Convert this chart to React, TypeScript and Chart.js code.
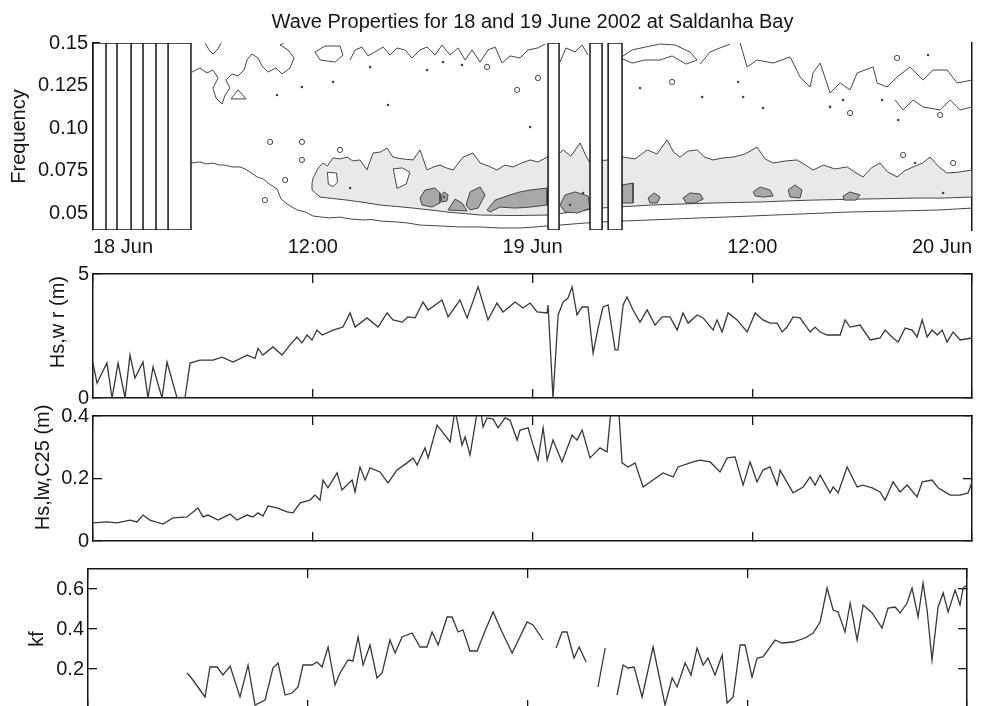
import { useEffect, useRef } from "react";
import { Chart, registerables } from "chart.js";

Chart.register(...registerables);

type Pt = [number, number | null];

const TITLE = "Wave Properties for 18 and 19 June 2002 at Saldanha Bay";

// time axis in hours after 18 Jun 2002 00:00
const TIME_RANGE = [0, 48];
const TIME_TICKS = [0, 12, 24, 36, 48];
const TIME_LABELS = ["18 Jun", "12:00", "19 Jun", "12:00", "20 Jun"];

// spectrum panel
const FREQ_RANGE = [0.04, 0.15];
const FREQ_TICKS = [0.05, 0.075, 0.1, 0.125, 0.15];
const FREQ_LABELS = ["0.05", "0.075", "0.10", "0.125", "0.15"];

// periods without spectra (start, end hours)
const GAPS: [number, number][] = [
  [0, 0.71], [0.71, 1.31], [1.31, 2.08], [2.08, 2.73], [2.73, 3.44], [3.44, 4.1], [4.1, 5.35],
  [24.85, 25.45], [27.14, 27.8], [28.13, 28.89],
];

// light-grey energy band: upper edge then lower edge
const BAND_UPPER: Pt[] = [
  [11.96, 0.0676], [12.02, 0.0706], [12.3, 0.0765], [12.56, 0.0794], [12.8, 0.0776], [13.11, 0.0824], [13.5, 0.0818], [13.87, 0.0829],
  [14.2, 0.0806], [14.58, 0.0812], [14.96, 0.0753], [15.29, 0.0853], [15.7, 0.0859], [16.06, 0.0882], [16.38, 0.0829],
  [16.9, 0.0818], [17.48, 0.0812], [17.86, 0.0871], [18.24, 0.0753], [18.6, 0.0771], [18.95, 0.0782], [19.3, 0.0765],
  [19.66, 0.0753], [20.21, 0.0829], [20.75, 0.0853], [21.14, 0.0794], [21.6, 0.0776], [22.06, 0.0753], [22.5, 0.0782],
  [22.94, 0.0771], [23.4, 0.0794], [23.87, 0.0812], [24.3, 0.08], [24.8, 0.0829], [25.2, 0.0824], [25.67, 0.0871],
  [26.1, 0.0835], [26.6, 0.0912], [26.9, 0.0841], [27.14, 0.0794], [27.6, 0.0806], [28.13, 0.0812], [28.5, 0.0794],
  [28.95, 0.0829], [29.6, 0.0818], [30.26, 0.0871], [30.8, 0.0847], [31.35, 0.0929], [31.7, 0.0859], [32.06, 0.0829],
  [32.5, 0.0865], [32.99, 0.0871], [33.4, 0.0829], [33.86, 0.0812], [34.4, 0.0824], [34.95, 0.0829], [35.6, 0.0847],
  [36.26, 0.0888], [36.7, 0.0818], [37.14, 0.0794], [37.8, 0.0806], [38.45, 0.0812], [38.9, 0.0782], [39.32, 0.0753],
  [39.9, 0.0782], [40.5, 0.0759], [41.18, 0.0771], [41.6, 0.0741], [42.05, 0.0712], [42.5, 0.0765], [42.98, 0.0794],
  [43.4, 0.0741], [43.91, 0.0712], [44.3, 0.0747], [44.78, 0.0771], [45.3, 0.0794], [45.71, 0.0829], [46.2, 0.0771],
  [46.64, 0.0735], [47.3, 0.0741], [48, 0.0753],
];
const BAND_LOWER: Pt[] = [
  [48, 0.0594], [46.5, 0.0588], [45, 0.0588], [43.5, 0.0585], [42, 0.0582], [40.6, 0.0579], [39.32, 0.0576],
  [37.9, 0.0571], [36.5, 0.0565], [35.2, 0.0562], [33.86, 0.0559], [32.2, 0.0553], [30.5, 0.0547], [29.1, 0.0538],
  [27.69, 0.0529], [26.2, 0.0506], [24.8, 0.0488], [23, 0.0485], [21.14, 0.0488], [19.33, 0.0506], [18.4, 0.0518],
  [17.48, 0.0529], [16.6, 0.0538], [15.67, 0.0547], [14.8, 0.0562], [13.87, 0.0576], [13.1, 0.0585], [12.4, 0.0594],
  [11.96, 0.0635],
];

// lower-level holes inside the band
const BAND_HOLES: Pt[][] = [
  [[12.8, 0.074], [13.3, 0.0735], [13.35, 0.068], [13.1, 0.0655], [12.85, 0.067]],
  [[16.4, 0.076], [16.9, 0.0765], [17.3, 0.074], [17.1, 0.067], [16.6, 0.0645]],
];

// dark-grey cores inside the band
const CORES: Pt[][] = [
  [[17.86, 0.0588], [18.13, 0.0635], [18.68, 0.0647], [18.95, 0.0618], [18.95, 0.0559], [18.51, 0.0535], [17.97, 0.0547]],
  [[19.0, 0.06], [19.17, 0.0624], [19.39, 0.0606], [19.33, 0.0571], [19.06, 0.0565]],
  [[19.39, 0.0518], [19.77, 0.0582], [20.15, 0.0559], [20.43, 0.0512]],
  [[20.37, 0.0547], [20.59, 0.0624], [21.14, 0.0653], [21.41, 0.0606], [21.03, 0.0529], [20.59, 0.0518]],
  [[21.52, 0.0518], [21.96, 0.0576], [22.77, 0.0606], [23.32, 0.0624], [23.87, 0.0635], [24.8, 0.0647], [24.8, 0.0547],
    [23.87, 0.0535], [23.05, 0.0529], [22.23, 0.0535], [21.68, 0.0506]],
  [[25.5, 0.0547], [25.78, 0.0606], [26.32, 0.0624], [27.03, 0.06], [27.14, 0.0529], [26.49, 0.05], [25.78, 0.0506]],
  [[28.89, 0.0665], [29.49, 0.0676], [29.49, 0.0559], [28.89, 0.0559]],
  [[30.31, 0.0588], [30.64, 0.0618], [30.97, 0.0594], [30.81, 0.0559], [30.42, 0.0559]],
  [[32.22, 0.0588], [32.6, 0.0618], [33.15, 0.0612], [33.32, 0.0582], [32.88, 0.0559], [32.39, 0.0559]],
  [[36.05, 0.0624], [36.43, 0.0653], [36.97, 0.0635], [37.14, 0.06], [36.59, 0.0594], [36.16, 0.06]],
  [[37.96, 0.0635], [38.34, 0.0665], [38.72, 0.0635], [38.61, 0.0588], [38.07, 0.0594]],
  [[40.96, 0.06], [41.34, 0.0624], [41.89, 0.0606], [41.67, 0.0576], [41.02, 0.0576]],
];

// lowest contour: swell front
const SWELL_EDGE: Pt[] = [
  [5.35, 0.0794], [5.84, 0.08], [6.2, 0.0788], [6.55, 0.0794], [6.9, 0.0782], [7.21, 0.0782], [7.6, 0.0771], [8.03, 0.0771],
  [8.3, 0.0759], [8.57, 0.0741], [8.96, 0.0712], [9.3, 0.07], [9.56, 0.0676], [10.05, 0.0641], [10.27, 0.0582],
  [10.6, 0.0553], [11.14, 0.0518], [11.6, 0.0506], [12.02, 0.0482], [12.5, 0.0476], [12.94, 0.0471], [13.5, 0.0476],
  [14.04, 0.0465], [14.75, 0.0459], [15.2, 0.0462], [15.67, 0.0453], [16.6, 0.0447], [17.2, 0.0441], [17.86, 0.0429],
  [18.95, 0.0424], [20, 0.0418], [21.14, 0.0418], [22.2, 0.0412], [23.32, 0.0412], [24.2, 0.0418], [24.8, 0.0424],
  [25.5, 0.0429], [26.5, 0.0438], [27.69, 0.0447], [29, 0.0453], [30.42, 0.0459], [31.8, 0.0465], [33.15, 0.0471],
  [34.5, 0.0476], [35.88, 0.0482], [37.2, 0.0488], [38.61, 0.0494], [40, 0.05], [41.34, 0.0506], [42.7, 0.0509],
  [44.07, 0.0512], [45.2, 0.0515], [46.26, 0.0518], [47.2, 0.0524], [48, 0.0529],
];

// high-frequency noise contours (open)
const NOISE_LINES: Pt[][] = [
  [[5.41, 0.1329], [5.84, 0.1353], [6.23, 0.1324], [6.55, 0.1341], [6.83, 0.1294], [6.55, 0.1235], [6.72, 0.1176],
    [7.05, 0.1141], [7.21, 0.1194], [7.48, 0.1235], [7.26, 0.1282], [7.59, 0.1318], [7.92, 0.1306], [8.25, 0.1341],
    [8.41, 0.14], [8.68, 0.1435], [9.01, 0.1412], [9.23, 0.1365], [9.56, 0.1329], [9.99, 0.1353], [10.32, 0.1318],
    [10.76, 0.1353], [10.98, 0.1412], [10.65, 0.1459], [10.21, 0.1488], [10.43, 0.15]],
  [[6.12, 0.15], [6.34, 0.1459], [6.55, 0.1435], [6.83, 0.1465], [6.99, 0.15]],
  [[14.04, 0.14], [14.31, 0.1459], [14.69, 0.1476], [15.02, 0.1424], [15.4, 0.1447], [15.84, 0.1476], [16.22, 0.1429],
    [16.6, 0.1471], [17.04, 0.1459], [17.42, 0.1412], [17.86, 0.1459], [18.24, 0.1476], [18.68, 0.1429], [19.06, 0.1488],
    [19.5, 0.1429], [19.93, 0.1471], [20.32, 0.14], [20.7, 0.1459], [21.14, 0.1388], [21.57, 0.1459], [21.96, 0.1476],
    [22.34, 0.1382], [22.77, 0.1424], [23.32, 0.1412], [23.76, 0.1459], [24.3, 0.1471], [24.69, 0.1494]],
  [[25.5, 0.1388], [25.83, 0.1471], [26.32, 0.1447], [26.71, 0.1488], [27.03, 0.1429]],
  [[33.15, 0.1376], [33.7, 0.1447], [34.24, 0.1471], [34.79, 0.1494]],
  [[35.34, 0.15], [35.72, 0.1359], [36.26, 0.14], [37.14, 0.1382], [38.07, 0.1418], [38.61, 0.13], [39.16, 0.1241],
    [39.32, 0.1324], [39.71, 0.1382], [40.25, 0.1206], [40.8, 0.1265], [41.34, 0.1224], [41.73, 0.1324], [42.6, 0.1359],
    [42.82, 0.1265], [43.36, 0.1241], [43.91, 0.13], [44.62, 0.1359], [45.33, 0.1282], [45.88, 0.1341], [46.64, 0.1341],
    [47.19, 0.1265], [48, 0.1282]],
  [[43.8, 0.1165], [44.24, 0.1106], [44.78, 0.1165], [45.33, 0.1124], [46.26, 0.1106], [46.81, 0.1165], [47.35, 0.1106],
    [48, 0.1124]],
];

// high-frequency noise contours (closed)
const NOISE_LOOPS: Pt[][] = [
  [[7.54, 0.1171], [7.92, 0.1224], [8.36, 0.1171]],
  [[12.12, 0.1447], [12.67, 0.1482], [13.49, 0.1482], [13.65, 0.1429], [13.22, 0.1388], [12.4, 0.14]],
  [[28.78, 0.1412], [29.44, 0.1459], [30.15, 0.1476], [30.97, 0.1494], [31.79, 0.1488], [32.6, 0.1447], [32.99, 0.14],
    [32.39, 0.1376], [31.62, 0.1424], [30.97, 0.14], [30.15, 0.14], [29.44, 0.1382]],
];

// tiny isolated contours
const RINGS: Pt[] = [
  [9.67, 0.0918], [11.41, 0.0918], [13.49, 0.0871], [11.41, 0.0812], [10.49, 0.0694], [9.39, 0.0576],
  [21.52, 0.1359], [23.16, 0.1224], [24.3, 0.1294], [31.62, 0.1271], [43.91, 0.1412], [44.24, 0.0841],
  [46.97, 0.0794], [46.26, 0.1076], [41.34, 0.1088],
];
const SPECKS: Pt[] = [
  [10.05, 0.1194], [11.41, 0.1241], [13.11, 0.1271], [15.13, 0.1359], [18.24, 0.1341], [19.12, 0.1388], [20.15, 0.1371],
  [16.11, 0.1135], [14.04, 0.0647], [23.87, 0.1006], [29.87, 0.1235], [33.26, 0.1182], [35.23, 0.1271], [35.5, 0.1182],
  [36.59, 0.1118], [40.25, 0.1124], [40.96, 0.1165], [43.09, 0.1165], [43.97, 0.1047], [45.6, 0.1429], [44.89, 0.0794],
  [46.42, 0.0618], [19.17, 0.0594], [26.05, 0.0547], [26.76, 0.0618],
];

// Hs,wr (m)
const HS_WR_RANGE = [0, 5];
const HS_WR_TICKS = [0, 5];
const HS_WR_LABELS = ["0", "5"];
const HS_WR: Pt[] = [
  [0, 1.41], [0.22, 0.6], [0.76, 1.41], [1.04, 0], [1.37, 1.41], [1.75, 0], [2.02, 1.73], [2.29, 0.8], [2.73, 1.45],
  [3.0, 0], [3.28, 1.25], [3.77, 0], [4.04, 1.45], [4.59, 0], [5.02, 0], [5.3, 1.41], [5.84, 1.53], [6.55, 1.53],
  [7.05, 1.65], [7.65, 1.45], [8.41, 1.73], [8.85, 1.6], [9.01, 2.0], [9.28, 1.73], [9.83, 2.06], [10.32, 1.73],
  [10.76, 2.14], [11.14, 2.46], [11.41, 2.22], [11.69, 2.54], [11.96, 2.34], [12.23, 2.74], [12.51, 2.54], [13.11, 2.74],
  [13.65, 2.86], [14.04, 3.43], [14.31, 2.86], [14.96, 3.23], [15.57, 2.86], [16.06, 3.43], [16.38, 3.15], [16.88, 3.06],
  [17.2, 3.27], [17.59, 3.23], [18.02, 3.87], [18.3, 3.55], [19.06, 3.95], [19.39, 3.27], [19.66, 3.55], [20.04, 3.95],
  [20.43, 3.23], [21.03, 4.48], [21.57, 3.15], [22.06, 3.83], [22.39, 3.47], [23.05, 3.87], [23.48, 3.63], [23.87, 3.83],
  [24.25, 3.47], [24.8, 3.43], [24.85, 3.75], [25.12, 0], [25.4, 3.35], [25.67, 3.87], [25.94, 4.03], [26.16, 4.48],
  [26.43, 3.35], [26.71, 3.67], [27.03, 3.67], [27.31, 1.81], [27.58, 2.82], [27.85, 3.67], [28.13, 3.75], [28.51, 1.94],
  [28.67, 1.94], [28.95, 3.75], [29.16, 4.07], [29.49, 3.55], [29.87, 3.06], [30.26, 3.55], [30.69, 2.94], [31.08, 3.27],
  [31.51, 3.27], [31.9, 2.74], [32.22, 3.43], [32.5, 3.02], [32.99, 3.35], [33.32, 3.23], [33.86, 2.74], [34.08, 3.15],
  [34.35, 2.66], [34.68, 3.43], [35.17, 3.15], [35.72, 2.66], [36.16, 3.43], [36.59, 3.15], [36.97, 3.02], [37.36, 3.02],
  [37.63, 2.66], [37.9, 2.86], [38.23, 3.27], [38.61, 3.23], [39.16, 2.66], [39.43, 2.86], [39.71, 2.66], [40.09, 2.54],
  [40.8, 2.54], [41.07, 3.15], [41.34, 2.86], [41.89, 2.94], [42.44, 2.34], [42.98, 2.42], [43.25, 2.74], [43.69, 2.42],
  [43.97, 2.26], [44.35, 2.82], [44.73, 2.74], [45.0, 2.46], [45.28, 3.15], [45.55, 2.46], [45.82, 2.74], [46.1, 2.54],
  [46.37, 2.74], [46.64, 2.26], [46.97, 2.66], [47.35, 2.34], [48, 2.42],
];

// Hs,lw at C25 (m)
const HS_LW_RANGE = [0, 0.4];
const HS_LW_TICKS = [0, 0.2, 0.4];
const HS_LW_LABELS = ["0", "0.2", "0.4"];
const HS_LW: Pt[] = [
  [0, 0.058], [0.76, 0.061], [1.31, 0.058], [2.02, 0.067], [2.4, 0.061], [2.73, 0.083], [3.11, 0.067], [3.82, 0.054],
  [4.37, 0.074], [5.13, 0.077], [5.73, 0.106], [6.01, 0.077], [6.28, 0.083], [6.83, 0.067], [7.48, 0.086], [7.86, 0.067],
  [8.41, 0.083], [8.74, 0.077], [9.01, 0.09], [9.28, 0.08], [9.56, 0.112], [10.05, 0.106], [10.6, 0.093], [10.92, 0.09],
  [11.31, 0.122], [11.85, 0.131], [12.12, 0.147], [12.4, 0.131], [12.56, 0.195], [12.83, 0.17], [13.33, 0.218],
  [13.6, 0.163], [13.87, 0.179], [14.15, 0.195], [14.31, 0.157], [14.58, 0.237], [14.86, 0.195], [15.13, 0.234],
  [15.67, 0.221], [16.11, 0.186], [16.6, 0.227], [17.15, 0.25], [17.48, 0.266], [17.7, 0.243], [18.13, 0.298],
  [18.3, 0.266], [18.79, 0.371], [19.5, 0.317], [19.77, 0.42], [20.15, 0.307], [20.32, 0.333], [20.59, 0.275],
  [20.97, 0.41], [21.14, 0.43], [21.3, 0.365], [21.52, 0.394], [21.85, 0.39], [22.12, 0.362], [22.5, 0.394],
  [22.77, 0.387], [23.16, 0.323], [23.32, 0.355], [23.76, 0.362], [24.03, 0.307], [24.3, 0.259], [24.58, 0.362],
  [24.8, 0.259], [25.12, 0.323], [25.61, 0.253], [26.16, 0.339], [26.43, 0.323], [26.71, 0.355], [27.14, 0.266],
  [27.69, 0.298], [28.07, 0.285], [28.35, 0.46], [28.67, 0.46], [28.89, 0.25], [29.22, 0.237], [29.6, 0.25],
  [30.04, 0.173], [30.58, 0.195], [31.13, 0.218], [31.68, 0.205], [31.95, 0.237], [32.77, 0.253], [33.15, 0.259],
  [33.7, 0.253], [34.24, 0.221], [34.63, 0.266], [35.06, 0.269], [35.5, 0.179], [35.88, 0.253], [36.26, 0.189],
  [36.59, 0.227], [36.97, 0.237], [37.36, 0.179], [37.52, 0.227], [38.23, 0.154], [38.78, 0.173], [39.16, 0.205],
  [39.43, 0.179], [39.71, 0.211], [40.25, 0.154], [40.42, 0.173], [40.69, 0.154], [41.18, 0.237], [41.73, 0.173],
  [42.05, 0.179], [42.55, 0.17], [42.98, 0.157], [43.25, 0.131], [43.69, 0.189], [44.07, 0.157], [44.46, 0.179],
  [45.0, 0.141], [45.28, 0.189], [45.82, 0.195], [46.15, 0.17], [46.81, 0.147], [47.35, 0.147], [47.79, 0.154],
  [48, 0.189],
];

// kf (null = no estimate)
const KF_RANGE = [0, 0.7];
const KF_TICKS = [0.2, 0.4, 0.6];
const KF_LABELS = ["0.2", "0.4", "0.6"];
const KF: Pt[] = [
  [5.41, 0.18], [5.73, 0.145], [6.39, 0.06], [6.66, 0.21], [7.05, 0.21], [7.37, 0.17], [7.76, 0.215], [8.3, 0.06],
  [8.74, 0.22], [9.12, 0.02], [9.67, 0.045], [10.1, 0.205], [10.38, 0.23], [10.76, 0.07], [11.14, 0.08], [11.47, 0.11],
  [11.74, 0.22], [12.23, 0.22], [12.51, 0.235], [12.78, 0.21], [13.11, 0.31], [13.49, 0.12], [13.76, 0.18],
  [14.2, 0.245], [14.47, 0.24], [14.75, 0.36], [15.02, 0.22], [15.4, 0.32], [15.78, 0.155], [16.06, 0.18],
  [16.49, 0.345], [16.77, 0.28], [17.15, 0.36], [17.7, 0.38], [18.13, 0.31], [18.51, 0.31], [18.79, 0.385],
  [19.12, 0.32], [19.61, 0.46], [19.88, 0.46], [20.21, 0.385], [20.48, 0.395], [20.86, 0.29], [21.25, 0.29],
  [21.68, 0.39], [22.12, 0.485], [22.61, 0.385], [23.16, 0.28], [23.98, 0.435], [24.3, 0.42], [24.85, 0.345],
  [25.2, null], [25.56, 0.305], [25.89, 0.385], [26.16, 0.385], [26.54, 0.255], [26.82, 0.31], [27.2, 0.235],
  [27.5, null], [27.85, 0.11], [28.24, 0.305], [28.5, null], [28.89, 0.07], [29.22, 0.22], [29.49, 0.205],
  [29.82, 0.21], [30.26, 0.06], [30.86, 0.31], [31.51, 0.02], [31.9, 0.155], [32.17, 0.11], [32.61, 0.23],
  [32.93, 0.17], [33.26, 0.305], [33.59, 0.22], [33.86, 0.255], [34.24, 0.17], [34.63, 0.27], [34.9, 0.03],
  [35.23, 0.06], [35.61, 0.32], [35.88, 0.32], [36.26, 0.16], [36.54, 0.255], [36.86, 0.26], [37.52, 0.345],
  [37.9, 0.33], [38.5, 0.335], [39.16, 0.355], [39.6, 0.38], [39.98, 0.435], [40.36, 0.605], [40.69, 0.495],
  [40.96, 0.485], [41.34, 0.385], [41.62, 0.53], [42.0, 0.345], [42.33, 0.52], [42.82, 0.48], [43.36, 0.405],
  [43.69, 0.505], [44.07, 0.51], [44.35, 0.48], [44.73, 0.53], [45.0, 0.605], [45.33, 0.46], [45.6, 0.63],
  [45.82, 0.495], [46.09, 0.245], [46.42, 0.51], [46.7, 0.58], [46.97, 0.485], [47.35, 0.595], [47.62, 0.52],
  [47.79, 0.605], [48, 0.62],
];

// ---- drawing setup ----
const CANVAS_W = 987;
const CANVAS_H = 760;
const VIEW_H = 706;
const FAMILY = "'Liberation Sans', Arial, Helvetica, sans-serif";
const INK = "#151515";
const TRACE = "#383838";
const CONTOUR = "#454545";
const BAND_FILL = "#e9e9e9";
const CORE_FILL = "#a8a8a8";
const TEXT_FONT = { family: FAMILY, size: 20, weight: "normal" as const };

type Frame = { left: number; right: number; top: number; bottom: number };
const FRAME_SPEC: Frame = { left: 93, right: 972, top: 43, bottom: 230 };
const FRAME_WR: Frame = { left: 93, right: 972, top: 274, bottom: 398 };
const FRAME_LW: Frame = { left: 93, right: 972, top: 416, bottom: 541 };
const FRAME_KF: Frame = { left: 88, right: 967, top: 569, bottom: 709 };

const xy = (pts: Pt[]) => pts.map(([x, y]) => ({ x, y }));
const closed = (shape: Pt[]): Pt[] => [...shape, shape[0]];
// several shapes in one dataset, separated by skipped points
const chain = (shapes: Pt[][]) => {
  const out: { x: number; y: number | null }[] = [];
  shapes.forEach((s, i) => {
    if (i > 0) out.push({ x: s[0][0], y: null });
    s.forEach(([x, y]) => out.push({ x, y }));
  });
  return out;
};
const gapBoxes = (): Pt[][] =>
  GAPS.map(([a, b]) => [
    [a, FREQ_RANGE[0]], [a, FREQ_RANGE[1]], [b, FREQ_RANGE[1]], [b, FREQ_RANGE[0]], [a, FREQ_RANGE[0]],
  ]);

const fixedTicks = (values: number[]) => (axis: any) => {
  axis.ticks = values.map((value) => ({ value }));
};
const labelFor = (values: number[], labels: string[]) => (v: any) => {
  const i = values.indexOf(Number(v));
  return i >= 0 ? labels[i] : "";
};
const inwardTicks = (len: number) => ({
  display: true,
  drawOnChartArea: false,
  drawTicks: true,
  tickLength: -len,
  color: INK,
  tickColor: INK,
  lineWidth: 1.3,
  tickWidth: 1.3,
});
const axisLine = { display: true, color: INK, width: 1.5 };
const noGrid = { display: false, drawTicks: false, drawOnChartArea: false };

const baseOptions = (frame: Frame, extraBottom: number, extraTop: number) => ({
  responsive: false,
  animation: false as const,
  devicePixelRatio: 1,
  events: [] as any[],
  layout: {
    padding: {
      left: 0,
      right: CANVAS_W - frame.right,
      top: frame.top - extraTop,
      bottom: CANVAS_H - frame.bottom - extraBottom,
    },
  },
});

function spectrumConfig(): any {
  const contourLine = { borderColor: CONTOUR, borderWidth: 1, pointRadius: 0, tension: 0 };
  return {
    type: "line",
    data: {
      datasets: [
        { ...contourLine, data: chain([closed([...BAND_UPPER, ...BAND_LOWER])]), fill: "shape", backgroundColor: BAND_FILL, order: 6 },
        { ...contourLine, data: chain(BAND_HOLES.map(closed)), fill: "shape", backgroundColor: "#ffffff", order: 5 },
        { ...contourLine, data: chain(CORES.map(closed)), fill: "shape", backgroundColor: CORE_FILL, order: 4 },
        { ...contourLine, data: chain([SWELL_EDGE, ...NOISE_LINES, ...NOISE_LOOPS.map(closed)]), fill: false, order: 3 },
        {
          data: xy(RINGS), showLine: false, pointRadius: 2.6, pointBackgroundColor: "#ffffff",
          pointBorderColor: CONTOUR, pointBorderWidth: 1, order: 2,
        },
        {
          data: xy(SPECKS), showLine: false, pointRadius: 1.3, pointBackgroundColor: CONTOUR,
          pointBorderWidth: 0, order: 2,
        },
        {
          data: chain(gapBoxes()), fill: "shape", backgroundColor: "#ffffff", borderColor: INK, borderWidth: 1.5,
          pointRadius: 0, tension: 0, order: 0,
        },
      ],
    },
    options: {
      ...baseOptions(FRAME_SPEC, 40, 43),
      plugins: {
        legend: { display: false },
        tooltip: { enabled: false },
        title: {
          display: true, text: TITLE, fullSize: false, color: INK, font: TEXT_FONT,
          padding: { top: 10, bottom: 9 },
        },
      },
      scales: {
        x: {
          type: "linear", position: "bottom", min: TIME_RANGE[0], max: TIME_RANGE[1],
          afterFit: (a: any) => { a.height = 40; },
          afterBuildTicks: fixedTicks(TIME_TICKS),
          grid: noGrid,
          border: { display: false },
          ticks: {
            display: true, align: "inner", padding: 5, color: INK, font: TEXT_FONT, autoSkip: false,
            maxRotation: 0, callback: labelFor(TIME_TICKS, TIME_LABELS),
          },
        },
        y: {
          type: "linear", position: "left", min: FREQ_RANGE[0], max: FREQ_RANGE[1],
          afterFit: (a: any) => { a.width = FRAME_SPEC.left; },
          afterBuildTicks: fixedTicks(FREQ_TICKS),
          grid: inwardTicks(7),
          border: axisLine,
          ticks: { padding: 12, color: INK, font: TEXT_FONT, autoSkip: false, callback: labelFor(FREQ_TICKS, FREQ_LABELS) },
          title: { display: true, text: "Frequency", color: INK, font: TEXT_FONT, padding: { top: 7, bottom: 0 } },
        },
        y2: {
          type: "linear", position: "right", min: FREQ_RANGE[0], max: FREQ_RANGE[1],
          afterFit: (a: any) => { a.width = 0; },
          grid: noGrid,
          border: axisLine,
          ticks: { display: false },
        },
      },
    },
  };
}

function seriesConfig(
  frame: Frame, series: Pt[], range: number[], ticks: number[], labels: string[], title: string, titleInset: number,
): any {
  const sideAxis = (pos: "left" | "right") => ({
    type: "linear", position: pos, min: range[0], max: range[1],
    afterFit: (a: any) => { a.width = pos === "left" ? frame.left : 0; },
    afterBuildTicks: fixedTicks(ticks),
    grid: inwardTicks(9),
    border: axisLine,
  });
  const timeAxis = (pos: "top" | "bottom") => ({
    type: "linear", position: pos, min: TIME_RANGE[0], max: TIME_RANGE[1],
    afterFit: (a: any) => { a.height = 0; },
    afterBuildTicks: fixedTicks(TIME_TICKS),
    grid: inwardTicks(9),
    border: axisLine,
    ticks: { display: false },
  });
  return {
    type: "line",
    data: {
      datasets: [
        {
          data: xy(series), borderColor: TRACE, borderWidth: 1.3, pointRadius: 0, tension: 0,
          fill: false, spanGaps: false,
        },
      ],
    },
    options: {
      ...baseOptions(frame, 0, 0),
      plugins: { legend: { display: false }, tooltip: { enabled: false }, title: { display: false } },
      scales: {
        x: timeAxis("bottom"),
        x2: timeAxis("top"),
        y: {
          ...sideAxis("left"),
          ticks: { padding: 13, color: INK, font: TEXT_FONT, autoSkip: false, callback: labelFor(ticks, labels) },
          title: { display: true, text: title, color: INK, font: TEXT_FONT, padding: { top: titleInset, bottom: 0 } },
        },
        y2: { ...sideAxis("right"), ticks: { display: false } },
      },
    },
  };
}

export default function App() {
  const specRef = useRef<HTMLCanvasElement>(null);
  const wrRef = useRef<HTMLCanvasElement>(null);
  const lwRef = useRef<HTMLCanvasElement>(null);
  const kfRef = useRef<HTMLCanvasElement>(null);

  useEffect(() => {
    const charts = [
      new Chart(specRef.current!, spectrumConfig()),
      new Chart(wrRef.current!, seriesConfig(FRAME_WR, HS_WR, HS_WR_RANGE, HS_WR_TICKS, HS_WR_LABELS, "     Hs,w r (m)", 46)),
      new Chart(lwRef.current!, seriesConfig(FRAME_LW, HS_LW, HS_LW_RANGE, HS_LW_TICKS, HS_LW_LABELS, "    Hs,lw,C25 (m)", 31)),
      new Chart(kfRef.current!, seriesConfig(FRAME_KF, KF, KF_RANGE, KF_TICKS, KF_LABELS, "kf", 25)),
    ];
    return () => charts.forEach((c) => c.destroy());
  }, []);

  const canvasStyle: React.CSSProperties = {
    position: "absolute", left: 0, top: 0, width: CANVAS_W, height: CANVAS_H,
  };
  return (
    <div
      style={{
        position: "fixed", left: 0, top: 0, width: CANVAS_W, height: VIEW_H, overflow: "hidden", background: "#ffffff",
      }}
    >
      {[specRef, wrRef, lwRef, kfRef].map((r, i) => (
        <canvas key={i} ref={r} width={CANVAS_W} height={CANVAS_H} style={canvasStyle} />
      ))}
    </div>
  );
}
